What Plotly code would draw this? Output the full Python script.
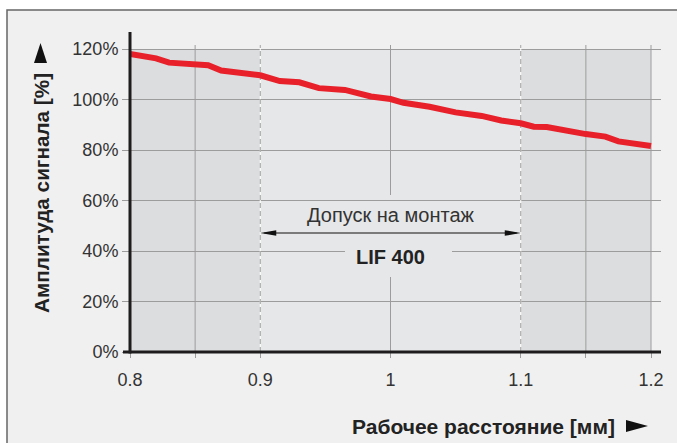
import plotly.graph_objects as go

# ---- data ----
distance_mm = [0.80, 0.82, 0.83, 0.84, 0.86, 0.87, 0.90, 0.915, 0.93, 0.945, 0.965, 0.985,
               1.00, 1.01, 1.03, 1.05, 1.07, 1.085, 1.10, 1.11, 1.12, 1.15, 1.165, 1.175, 1.20]
amplitude_pct = [118.0, 116.3, 114.6, 114.4, 113.6, 111.5, 109.6, 107.3, 106.8, 104.5, 103.8, 101.2,
                 100.2, 98.7, 97.1, 94.9, 93.5, 91.7, 90.6, 89.2, 89.1, 86.3, 85.3, 83.4, 81.6]

x_tick_vals = [0.8, 0.85, 0.9, 1.0, 1.1, 1.15, 1.2]
x_tick_text = ["0.8", "", "0.9", "1", "1.1", "", "1.2"]
y_tick_vals = [0, 20, 40, 60, 80, 100, 120]
y_tick_text = ["0%", "20%", "40%", "60%", "80%", "100%", "120%"]

solid_grid_x = [0.85, 1.15, 1.2]
dashed_grid_x = [0.9, 1.1]
center_grid_x = 1.0

tol_start, tol_end = 0.9, 1.1
x_min, x_max = 0.8, 1.2
y_max = 120

y_title = "Амплитуда сигнала [%]"
x_title = "Рабочее расстояние [мм]"
tol_label = "Допуск на монтаж"
model_label = "LIF 400"

# ---- geometry (pixels) ----
W, H = 677, 443
ML, MR, MT, MB = 130, 16, 45, 91
PW = W - ML - MR
PH = H - MT - MB
px_per_x = 1302.5
px_per_y = 2.525
x_range = [x_min, x_min + PW / px_per_x]
y_range = [0, PH / px_per_y]
y_top = y_range[1]


def px(xp):
    return (xp - ML) / PW


def py(yp):
    return (H - MB - yp) / PH


def dx(p):
    return p / px_per_x


def dy(p):
    return p / px_per_y


def vy(yp):
    return (H - MB - yp) / px_per_y


GRID = "#9c9c9c"
DARK = "#dcdddf"
LIGHT = "#e6e7e8"
PANEL = "#f0f0f0"
AXIS = "#1e1c1d"
TEXT = "#333333"
RED = "#e8202a"

shapes = []
# outer panel
shapes.append(dict(type="rect", xref="paper", yref="paper", layer="below",
                   x0=px(7), x1=px(W + 5), y0=py(H + 5), y1=py(10),
                   fillcolor=PANEL, line=dict(color="#666666", width=1.5)))
# shaded zones
for a, b, c in [(x_min, tol_start, DARK), (tol_start, tol_end, LIGHT), (tol_end, x_max, DARK)]:
    shapes.append(dict(type="rect", xref="x", yref="y", layer="below",
                       x0=a, x1=b, y0=0, y1=y_max, fillcolor=c, line=dict(width=0)))
# mask of 40% grid line behind label
shapes.append(dict(type="rect", xref="x", yref="y", layer="between",
                   x0=x_min + dx(345 - ML), x1=x_min + dx(452 - ML), y0=40 - dy(4), y1=40 + dy(4),
                   fillcolor=LIGHT, line=dict(width=0)))
# vertical grid lines
for xv in solid_grid_x:
    shapes.append(dict(type="line", xref="x", yref="y", layer="between",
                       x0=xv, x1=xv, y0=0, y1=y_top, line=dict(color=GRID, width=1)))
for xv in dashed_grid_x:
    shapes.append(dict(type="line", xref="x", yref="y", layer="between",
                       x0=xv, x1=xv, y0=0, y1=y_top, line=dict(color="#ffffff", width=1)))
    shapes.append(dict(type="line", xref="x", yref="y", layer="between",
                       x0=xv, x1=xv, y0=0, y1=y_top, line=dict(color=GRID, width=1, dash="5px,3px")))
shapes.append(dict(type="line", xref="x", yref="y", layer="between",
                   x0=center_grid_x, x1=center_grid_x, y0=vy(195), y1=y_top, line=dict(color=GRID, width=1)))
shapes.append(dict(type="line", xref="x", yref="y", layer="between",
                   x0=center_grid_x, x1=center_grid_x, y0=0, y1=vy(277), line=dict(color=GRID, width=1)))
# tolerance arrow
arrow_y = vy(233)
shapes.append(dict(type="line", xref="x", yref="y", layer="above",
                   x0=tol_start + dx(4), x1=tol_end - dx(4), y0=arrow_y, y1=arrow_y,
                   line=dict(color="#111111", width=1.2)))
hl, hw = dx(16), dy(2.8)
shapes.append(dict(type="path", xref="x", yref="y", layer="above",
                   path=f"M{tol_start},{arrow_y} L{tol_start + hl},{arrow_y + hw} L{tol_start + hl},{arrow_y - hw} Z",
                   fillcolor="#111111", line=dict(width=0)))
shapes.append(dict(type="path", xref="x", yref="y", layer="above",
                   path=f"M{tol_end},{arrow_y} L{tol_end - hl},{arrow_y + hw} L{tol_end - hl},{arrow_y - hw} Z",
                   fillcolor="#111111", line=dict(width=0)))
# axis lines
shapes.append(dict(type="line", xref="paper", yref="paper", layer="above",
                   x0=0, x1=0, y0=py(H - MB + 1.5), y1=py(32), line=dict(color=AXIS, width=3)))
shapes.append(dict(type="line", xref="paper", yref="paper", layer="above",
                   x0=px(123), x1=1, y0=0, y1=0, line=dict(color=AXIS, width=3)))
# title arrows
shapes.append(dict(type="path", xref="paper", yref="paper", layer="above",
                   path=f"M{px(34)},{py(63)} L{px(40.5)},{py(43)} L{px(47)},{py(63)} Z",
                   fillcolor="#111111", line=dict(width=0)))
shapes.append(dict(type="path", xref="paper", yref="paper", layer="above",
                   path=f"M{px(626)},{py(420)} L{px(648)},{py(426)} L{px(626)},{py(432)} Z",
                   fillcolor="#111111", line=dict(width=0)))

fig = go.Figure()
fig.add_trace(go.Scatter(x=distance_mm, y=amplitude_pct, mode="lines",
                         line=dict(color=RED, width=6), cliponaxis=False, hoverinfo="skip",
                         showlegend=False))

anchor = dict(xanchor="center", yanchor="middle", showarrow=False)
annotations = [
    dict(text=y_title, xref="paper", yref="paper", x=px(41), y=py(193), textangle=-90,
         font=dict(family="Liberation Sans", size=20.7, color="#222222", weight="bold"), **anchor),
    dict(text=x_title, xref="paper", yref="paper", x=px(483), y=py(426),
         font=dict(family="Liberation Sans", size=21, color="#222222", weight="bold"), **anchor),
    dict(text=tol_label, xref="x", yref="paper", x=(tol_start + tol_end) / 2, y=py(215),
         font=dict(family="Liberation Sans", size=20, color=TEXT), **anchor),
    dict(text=model_label, xref="x", yref="paper", x=x_min + dx(390 - ML), y=py(257),
         font=dict(family="Liberation Sans", size=20, color="#222222", weight="bold"), **anchor),
]

fig.update_layout(
    width=W, height=H,
    margin=dict(l=ML, r=MR, t=MT, b=MB, pad=0),
    paper_bgcolor="#ffffff", plot_bgcolor=PANEL,
    shapes=shapes, annotations=annotations, showlegend=False,
    xaxis=dict(range=x_range, tickmode="array", tickvals=x_tick_vals, ticktext=x_tick_text,
               showgrid=False, zeroline=False, showline=False,
               ticks="outside", ticklen=5, tickcolor=GRID, tickwidth=1, ticklabelstandoff=6,
               tickfont=dict(family="Liberation Sans", size=18, color=TEXT)),
    yaxis=dict(range=y_range, tickmode="array", tickvals=y_tick_vals, ticktext=y_tick_text,
               showgrid=True, gridcolor=GRID, gridwidth=1, zeroline=False, showline=False,
               ticks="outside", ticklen=7, tickcolor=GRID, tickwidth=1,
               tickfont=dict(family="Liberation Sans", size=18, color=TEXT)),
)

fig.write_html("out.html", config={"displayModeBar": False},
               post_script="document.body.style.margin='0px';")
